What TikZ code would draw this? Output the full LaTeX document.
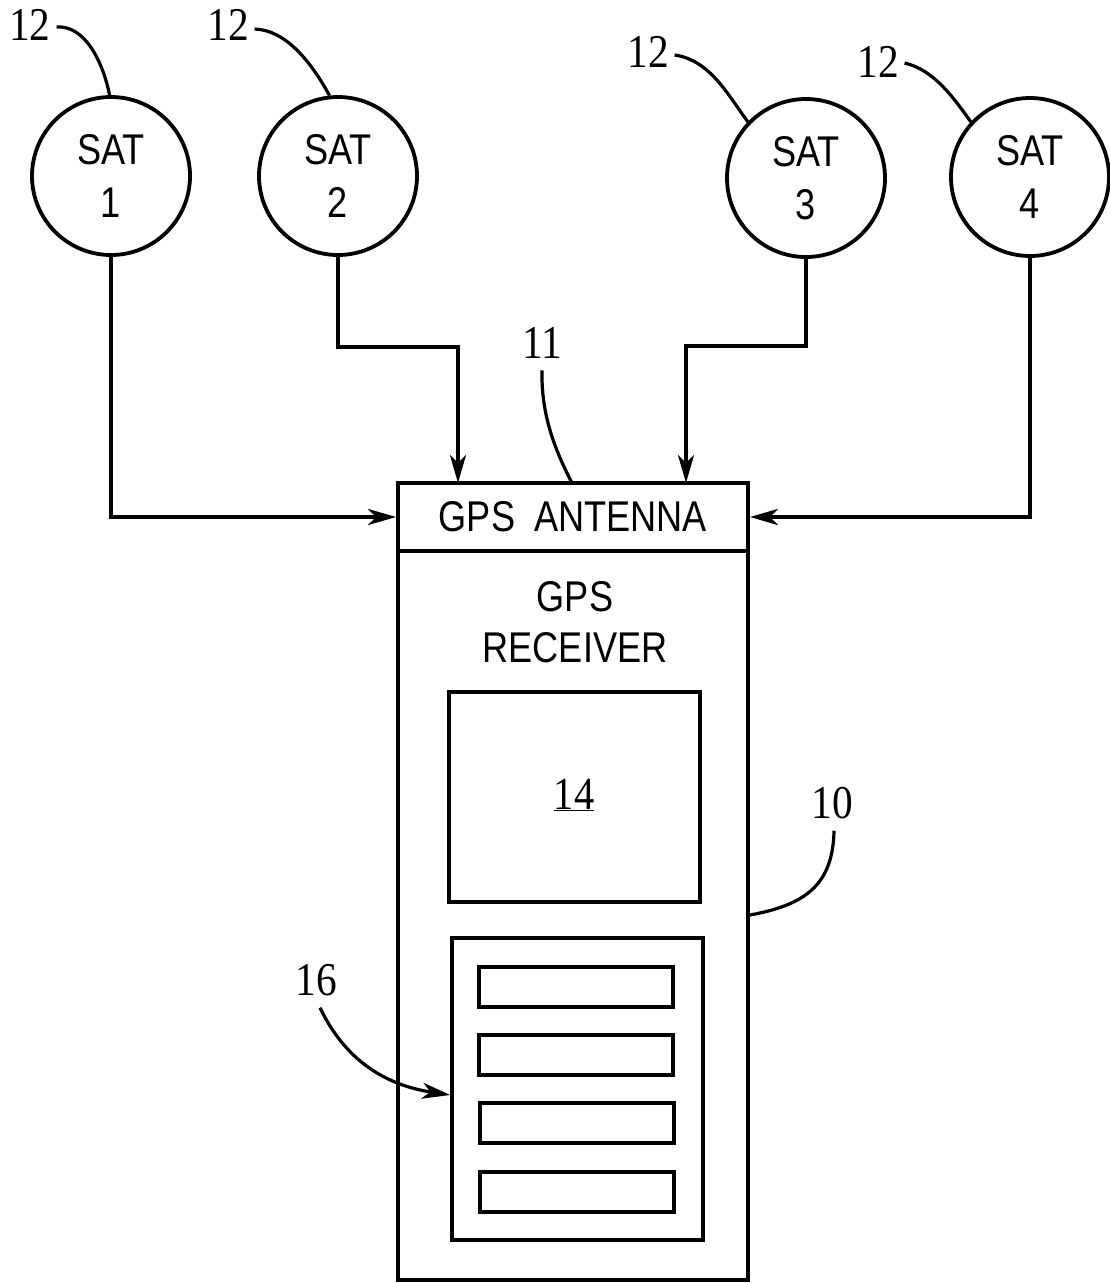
\documentclass[tikz,border=0pt]{standalone}
\usepackage{fontspec}
\usetikzlibrary{arrows.meta,calc}
\newfontfamily\lblfont[FakeStretch=0.84]{Liberation Sans}
\newfontfamily\numfont[FakeStretch=0.88]{Liberation Serif}
\begin{document}
\begin{tikzpicture}[x=1pt,y=-1pt,
  line width=3.8pt,
  sat/.style={draw,circle,minimum size=158pt,inner sep=0pt,align=center,
    font=\lblfont\fontsize{43}{53}\selectfont},
  box/.style={draw,rectangle,inner sep=0pt},
  ref/.style={font=\numfont\fontsize{47}{47}\selectfont,inner sep=0pt},
  txt/.style={font=\lblfont\fontsize{43}{51}\selectfont,align=center,inner sep=0pt},
  arr/.style={-{Stealth[length=28pt,width=16pt,inset=8pt]}},
  lead/.style={line width=3.2pt}]
\useasboundingbox (0,0) rectangle (1110,1283);
% satellites
\node[sat] (s1) at (111,176) {SAT\\1};
\node[sat] (s2) at (338,176) {SAT\\2};
\node[sat] (s3) at (806,178) {SAT\\3};
\node[sat] (s4) at (1030,177) {SAT\\4};
% receiver
\node[box,minimum width=350pt,minimum height=797pt] (rx) at (573,881.5) {};
\node[box,minimum width=350pt,minimum height=68pt,txt] (ant) at (573,517) {GPS\hspace{0.45em}ANTENNA};
\node[txt] (rtxt) at (575,622) {GPS\\RECEIVER};
\node[box,minimum width=251pt,minimum height=210pt] (d14) at (574.5,797) {};
\node[ref,font=\numfont\fontsize{46}{46}\selectfont] (n14) at (574,795) {\underline{14}};
\node[box,minimum width=251pt,minimum height=302pt] (k16) at (577.5,1089) {};
\node[box,minimum width=194pt,minimum height=40pt,line width=3.2pt] (b1) at (576,987) {};
\node[box,minimum width=194pt,minimum height=40pt,line width=3.2pt] (b2) at (576,1055) {};
\node[box,minimum width=194pt,minimum height=40pt,line width=3.2pt] (b3) at (577,1123) {};
\node[box,minimum width=194pt,minimum height=40pt,line width=3.2pt] (b4) at (577,1192) {};
% reference numerals
\node[ref] (l1) at (30,25) {12};
\node[ref] (l2) at (228,25) {12};
\node[ref] (l3) at (648,52) {12};
\node[ref] (l4) at (878,62) {12};
\node[ref] (l11) at (542,343) {11};
\node[ref] (l10) at (832,803) {10};
\node[ref] (l16) at (316,980) {16};
% antenna entry points
\coordinate (a2) at (458,483);
\coordinate (a3) at (686,483);
% signal connectors
\draw[arr] (s1.south) |- (ant.west);
\draw[arr] (s2.south) -- ++(0,90) -| (a2);
\draw[arr] (s3.south) -- ++(0,87) -| (a3);
\draw[arr] (s4.south) |- (ant.east);
% leader lines
\draw[lead] ($(l1.east)+(4,2)$) .. controls (85,25) and (103,62) .. (s1.91);
\draw[lead] ($(l2.east)+(4,4)$) .. controls (285,30) and (310,60) .. (s2.96);
\draw[lead] ($(l3.east)+(4,3)$) .. controls (710,60) and (728,95) .. (s3.136);
\draw[lead] ($(l4.east)+(4,1)$) .. controls (935,70) and (955,100) .. (s4.137);
\draw[lead] ($(l11.south)+(0,10)$) .. controls (541,415) and (555,450) .. (572,483);
\draw[lead] ($(l10.south)+(2,10)$) .. controls (833,885) and (805,905) .. (rx.east |- 0,915);
\draw[lead,arr] ($(l16.south)+(4,10)$) .. controls (345,1060) and (385,1085) .. (k16.west |- 0,1095);
\end{tikzpicture}
\end{document}
